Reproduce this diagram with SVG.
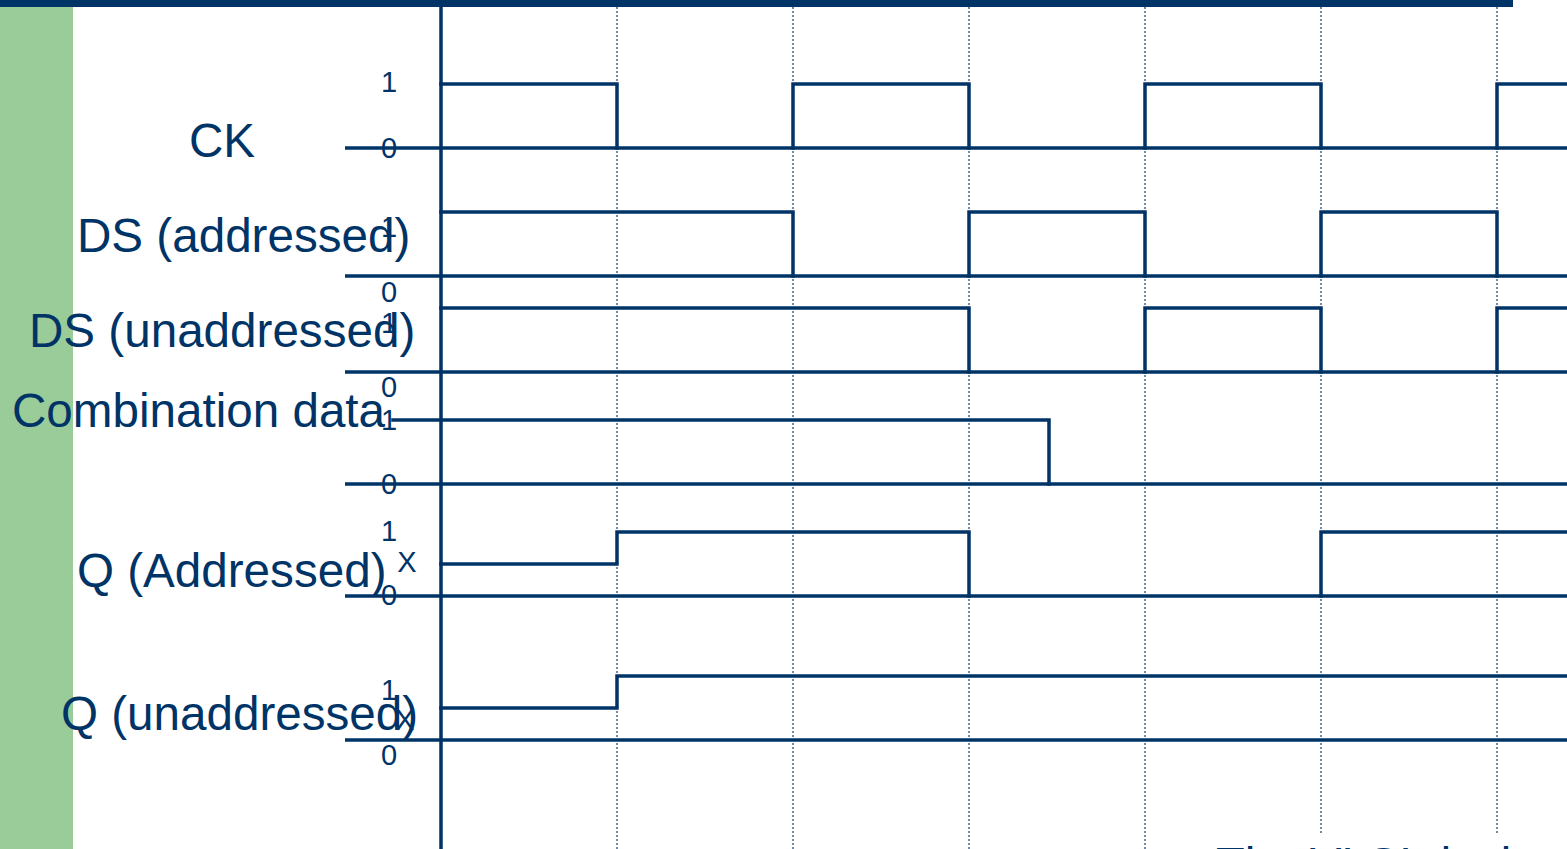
<svg xmlns="http://www.w3.org/2000/svg" width="1567" height="849" viewBox="0 0 1567 849">
<style>
.sig{fill:none;stroke:#003366;stroke-width:3.5;stroke-linejoin:miter;stroke-linecap:square}
.base{fill:none;stroke:#003366;stroke-width:3.5}
.grid{stroke:#2E5C8A;stroke-width:1.4;stroke-dasharray:2 2}
.lbl{font-family:"Liberation Sans",Arial,sans-serif;font-size:47.6px;fill:#003366}
.lv{font-family:"Liberation Sans",Arial,sans-serif;font-size:29px;fill:#003366;text-anchor:middle}
</style>
<rect x="0" y="0" width="1567" height="849" fill="#ffffff"/>
<rect x="0" y="0" width="73" height="849" fill="#99CC99"/>
<rect x="0" y="0" width="1513" height="7" fill="#003366"/>
<g id="grid">
<line class="grid" x1="617" y1="7" x2="617" y2="849"/>
<line class="grid" x1="793" y1="7" x2="793" y2="849"/>
<line class="grid" x1="969" y1="7" x2="969" y2="849"/>
<line class="grid" x1="1145" y1="7" x2="1145" y2="849"/>
<line class="grid" x1="1321" y1="7" x2="1321" y2="833"/>
<line class="grid" x1="1497" y1="7" x2="1497" y2="833"/>
</g>
<line id="axis" x1="441" y1="7" x2="441" y2="849" stroke="#003366" stroke-width="3.5"/>
<g id="connectors">
<line class="base" x1="345" y1="148" x2="1567" y2="148"/>
<line class="base" x1="345" y1="276" x2="1567" y2="276"/>
<line class="base" x1="345" y1="372" x2="1567" y2="372"/>
<line class="base" x1="345" y1="484" x2="1567" y2="484"/>
<line class="base" x1="345" y1="596" x2="1567" y2="596"/>
<line class="base" x1="345" y1="740" x2="1567" y2="740"/>
</g>
<g id="ck">
<text class="lbl" x="189" y="157">CK</text>
<text class="lv" x="389" y="92">1</text>
<text class="lv" x="389" y="158">0</text>
<path class="sig" d="M441,84 H617 V148 M793,148 V84 H969 V148 M1145,148 V84 H1321 V148 M1497,148 V84 H1567"/>
</g>
<g id="ds-addressed">
<text class="lbl" x="77" y="252">DS (addressed)</text>
<text class="lv" x="389" y="237">1</text>
<text class="lv" x="389" y="302">0</text>
<path class="sig" d="M441,212 H793 V276 M969,276 V212 H1145 V276 M1321,276 V212 H1497 V276"/>
</g>
<g id="ds-unaddressed">
<text class="lbl" x="29" y="347">DS (unaddressed)</text>
<text class="lv" x="389" y="333">1</text>
<text class="lv" x="389" y="397">0</text>
<path class="sig" d="M441,308 H969 V372 M1145,372 V308 H1321 V372 M1497,372 V308 H1567"/>
</g>
<g id="combination">
<text class="lbl" x="12" y="427">Combination data</text>
<text class="lv" x="389" y="430">1</text>
<text class="lv" x="389" y="494">0</text>
<path class="sig" d="M393,420 H1049 V484"/>
</g>
<g id="q-addressed">
<text class="lbl" x="77" y="587">Q (Addressed)</text>
<text class="lv" x="389" y="541">1</text>
<text class="lv" x="407" y="572">X</text>
<text class="lv" x="389" y="605">0</text>
<path class="sig" d="M441,564 H617 V532 H969 V596 M1321,596 V532 H1567"/>
</g>
<g id="q-unaddressed">
<text class="lbl" x="61" y="730">Q (unaddressed)</text>
<text class="lv" x="389" y="700">1</text>
<text class="lv" x="405" y="730">X</text>
<text class="lv" x="389" y="765">0</text>
<path class="sig" d="M441,708 H617 V676 H1567"/>
</g>
<g id="footer">
<rect x="1200" y="834" width="367" height="15" fill="#ffffff"/>
<text x="1216" y="880" font-family="Liberation Sans,Arial,sans-serif" font-size="47" fill="#003366">The VLSI design lab</text>
</g>
</svg>
